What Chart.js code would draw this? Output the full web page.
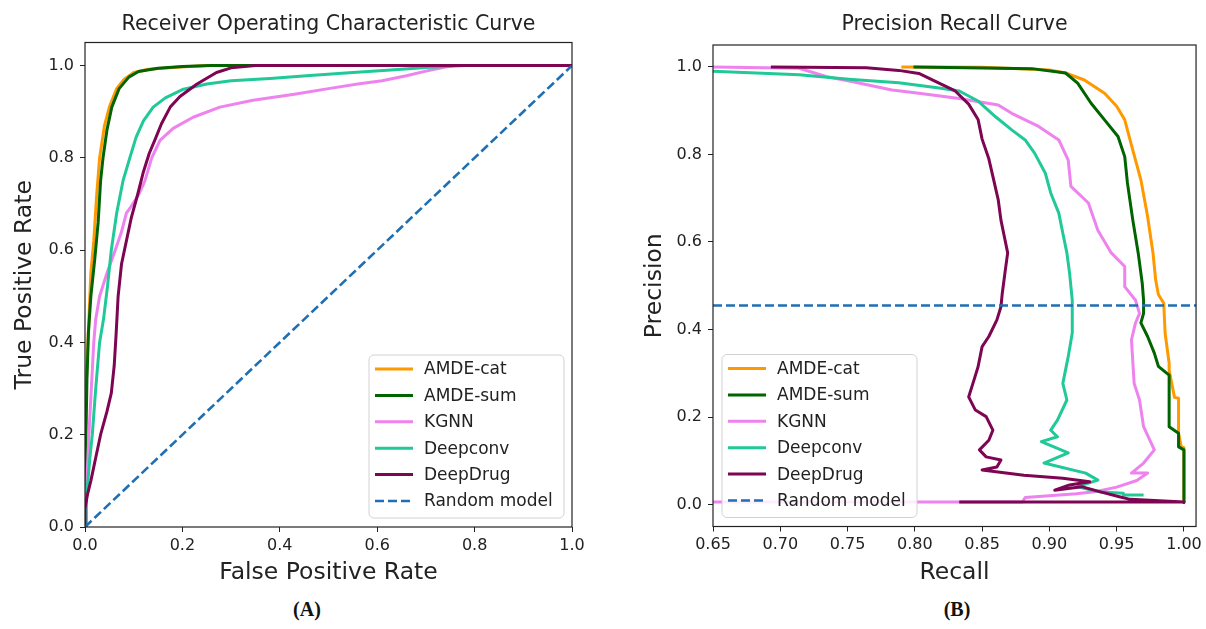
<!DOCTYPE html>
<html>
<head>
<meta charset="utf-8">
<script src="https://cdn.jsdelivr.net/npm/chart.js@4.4.1/dist/chart.umd.min.js"></script>
<style>
html, body { margin: 0; padding: 0; background: #fff; }
body { width: 1206px; height: 629px; position: relative; overflow: hidden; }
canvas { position: absolute; top: 0; }
#rocCanvas { left: 0; }
#prCanvas { left: 603px; }
.panel-tag { position: absolute; top: 598px; font: bold 20px "Liberation Serif", serif; color: #111; transform: translateX(-50%); }
</style>
</head>
<body>
<canvas id="rocCanvas" width="603" height="590"></canvas>
<canvas id="prCanvas" width="603" height="590"></canvas>
<div class="panel-tag" style="left:307px">(A)</div>
<div class="panel-tag" style="left:957px">(B)</div>
<script>
/* --- Data --- */
const seriesNames = ['AMDE-cat', 'AMDE-sum', 'KGNN', 'Deepconv', 'DeepDrug', 'Random model'];
const seriesColors = ['#ff9900', '#006400', '#ee82ee', '#20c997', '#7d0552', '#1f6fb4'];

// ROC: [FPR, TPR]
const rocAmdeCat = [[0,0],[0.001,0.25],[0.004,0.35],[0.008,0.45],[0.012,0.55],[0.018,0.62],[0.024,0.72],[0.03,0.8],[0.04,0.87],[0.05,0.91],[0.065,0.95],[0.08,0.97],[0.1,0.985],[0.13,0.992],[0.18,0.996],[0.25,1.0],[1,1]];
const rocAmdeSum = [[0,0],[0.002,0.2],[0.004,0.32],[0.007,0.42],[0.012,0.5],[0.02,0.58],[0.027,0.66],[0.032,0.75],[0.037,0.8],[0.045,0.86],[0.055,0.91],[0.07,0.95],[0.09,0.975],[0.11,0.987],[0.15,0.994],[0.2,0.998],[0.26,1.0],[1,1]];
const rocKgnn = [[0,0],[0.002,0.05],[0.004,0.1],[0.008,0.2],[0.013,0.3],[0.018,0.4],[0.022,0.45],[0.03,0.5],[0.045,0.55],[0.062,0.6],[0.075,0.64],[0.085,0.68],[0.095,0.695],[0.11,0.72],[0.123,0.75],[0.137,0.8],[0.154,0.838],[0.181,0.864],[0.222,0.888],[0.277,0.91],[0.345,0.925],[0.43,0.938],[0.5,0.95],[0.56,0.96],[0.61,0.967],[0.66,0.978],[0.7,0.988],[0.74,0.997],[0.76,1.0],[1,1]];
const rocDeepconv = [[0,0],[0.002,0.06],[0.006,0.1],[0.01,0.15],[0.015,0.2],[0.022,0.3],[0.03,0.4],[0.038,0.45],[0.046,0.52],[0.054,0.6],[0.065,0.68],[0.078,0.75],[0.092,0.8],[0.105,0.845],[0.12,0.88],[0.14,0.91],[0.165,0.93],[0.2,0.948],[0.25,0.96],[0.3,0.967],[0.38,0.972],[0.455,0.978],[0.55,0.985],[0.62,0.99],[0.7,0.996],[0.78,1.0],[1,1]];
const rocDeepDrug = [[0,0],[0,0.04],[0.005,0.07],[0.012,0.1],[0.022,0.15],[0.032,0.2],[0.045,0.25],[0.054,0.29],[0.06,0.35],[0.064,0.42],[0.068,0.5],[0.075,0.57],[0.085,0.62],[0.095,0.67],[0.108,0.72],[0.12,0.77],[0.132,0.81],[0.144,0.84],[0.157,0.874],[0.175,0.91],[0.195,0.933],[0.23,0.96],[0.27,0.985],[0.3,0.995],[0.35,1.0],[1,1]];
const rocRandom = [[0,0],[1,1]];

// PR: [Recall, Precision]
const prAmdeCat = [[0.79,1.0],[0.85,0.999],[0.9,0.993],[0.912,0.986],[0.926,0.97],[0.941,0.94],[0.95,0.91],[0.956,0.879],[0.962,0.81],[0.968,0.742],[0.973,0.658],[0.977,0.575],[0.979,0.513],[0.981,0.48],[0.985,0.46],[0.986,0.392],[0.989,0.323],[0.989,0.307],[0.993,0.245],[0.996,0.243],[0.996,0.163],[0.998,0.132],[1.0,0.13],[1.0,0.005]];
const prAmdeSum = [[0.799,1.0],[0.838,0.998],[0.887,0.996],[0.912,0.986],[0.921,0.963],[0.931,0.917],[0.941,0.879],[0.951,0.841],[0.956,0.795],[0.958,0.735],[0.962,0.65],[0.966,0.575],[0.969,0.506],[0.97,0.467],[0.97,0.437],[0.968,0.415],[0.973,0.384],[0.978,0.346],[0.981,0.316],[0.989,0.296],[0.989,0.178],[0.996,0.163],[0.996,0.132],[1.0,0.125],[1.0,0.005]];
const prKgnn = [[0.65,1.0],[0.714,0.997],[0.734,0.978],[0.754,0.966],[0.783,0.947],[0.803,0.94],[0.833,0.928],[0.862,0.913],[0.872,0.894],[0.892,0.864],[0.907,0.833],[0.914,0.787],[0.916,0.727],[0.929,0.689],[0.936,0.627],[0.946,0.575],[0.956,0.544],[0.956,0.498],[0.964,0.467],[0.967,0.437],[0.964,0.415],[0.961,0.376],[0.963,0.277],[0.967,0.239],[0.97,0.178],[0.978,0.125],[0.97,0.095],[0.961,0.072],[0.973,0.072],[0.965,0.055],[0.95,0.04],[0.935,0.03],[0.92,0.025],[0.9,0.02],[0.882,0.016],[0.88,0.006],[0.65,0.006]];
const prDeepconv = [[0.65,0.99],[0.714,0.982],[0.751,0.972],[0.788,0.964],[0.818,0.952],[0.833,0.945],[0.847,0.922],[0.86,0.886],[0.872,0.856],[0.882,0.833],[0.889,0.803],[0.897,0.757],[0.901,0.712],[0.907,0.666],[0.91,0.62],[0.913,0.575],[0.915,0.529],[0.917,0.467],[0.917,0.392],[0.914,0.338],[0.91,0.277],[0.913,0.239],[0.906,0.193],[0.901,0.17],[0.906,0.155],[0.894,0.144],[0.914,0.118],[0.896,0.095],[0.927,0.072],[0.936,0.056],[0.921,0.041],[0.938,0.029],[0.955,0.026],[0.955,0.022],[0.97,0.022]];
const prDeepDrug = [[0.693,1.0],[0.764,0.998],[0.788,0.992],[0.803,0.985],[0.818,0.963],[0.83,0.945],[0.84,0.915],[0.847,0.88],[0.85,0.835],[0.855,0.79],[0.858,0.75],[0.862,0.696],[0.864,0.65],[0.867,0.605],[0.869,0.575],[0.867,0.53],[0.865,0.483],[0.864,0.452],[0.861,0.422],[0.855,0.384],[0.85,0.361],[0.847,0.315],[0.844,0.285],[0.84,0.246],[0.845,0.216],[0.853,0.201],[0.858,0.17],[0.855,0.147],[0.848,0.125],[0.853,0.109],[0.864,0.102],[0.861,0.086],[0.85,0.079],[0.881,0.067],[0.91,0.06],[0.93,0.052],[0.915,0.045],[0.904,0.033],[0.924,0.041],[0.938,0.029],[0.952,0.018],[0.96,0.012],[1.0,0.006],[0.833,0.006]];
const prRandom = [[0.65,0.455],[1.009,0.455]];

// Tick labels
const rocTicks = [0, 0.2, 0.4, 0.6, 0.8, 1.0];
const prXTicks = [0.65, 0.70, 0.75, 0.80, 0.85, 0.90, 0.95, 1.00];
const prYTicks = [0, 0.2, 0.4, 0.6, 0.8, 1.0];

/* --- Helpers --- */
const FONT = '"DejaVu Sans", sans-serif';
const INK = '#222';

function buildDatasets(seriesList) {
    return seriesList.map((pts, i) => {
        const dashed = i === seriesList.length - 1;
        return {
            label: seriesNames[i],
            data: pts.map(p => ({ x: p[0], y: p[1] })),
            showLine: true,
            borderColor: seriesColors[i],
            backgroundColor: seriesColors[i],
            borderWidth: dashed ? 2.6 : 3,
            borderDash: dashed ? [9, 4] : [],
            borderJoinStyle: 'round',
            pointRadius: 0,
            tension: 0,
            order: -i
        };
    });
}

// Frame around the plot area + matplotlib-like legend box
const frameAndLegend = {
    id: 'frameAndLegend',
    afterDraw(chart, args, opts) {
        const { ctx, chartArea: a } = chart;
        ctx.save();
        ctx.strokeStyle = INK;
        ctx.lineWidth = 1.2;
        ctx.strokeRect(a.left, a.top, a.right - a.left, a.bottom - a.top);

        const w = 195, h = 163, rowH = 26.4;
        const x0 = opts.side === 'right' ? a.right - 8 - w : a.left + 9;
        const y0 = a.bottom - 9 - h;
        ctx.beginPath();
        ctx.roundRect(x0, y0, w, h, 5);
        ctx.fillStyle = 'rgba(255,255,255,0.85)';
        ctx.fill();
        ctx.strokeStyle = '#d2d2d2';
        ctx.lineWidth = 1;
        ctx.stroke();

        chart.data.datasets.forEach((ds, i) => {
            const y = y0 + 14 + i * rowH;
            ctx.beginPath();
            ctx.setLineDash(ds.borderDash);
            ctx.strokeStyle = ds.borderColor;
            ctx.lineWidth = ds.borderWidth;
            ctx.moveTo(x0 + 6, y);
            ctx.lineTo(x0 + 44, y);
            ctx.stroke();
            ctx.setLineDash([]);
            ctx.fillStyle = INK;
            ctx.font = '17px ' + FONT;
            ctx.textBaseline = 'middle';
            ctx.fillText(ds.label, x0 + 55, y + 1);
        });
        ctx.restore();
    }
};

function axis(opts) {
    return {
        type: 'linear',
        min: opts.min,
        max: opts.max,
        grid: { display: true, drawOnChartArea: false, drawTicks: true, tickLength: 5, color: INK, lineWidth: 1 },
        border: { display: false },
        ticks: {
            color: INK,
            font: { family: FONT, size: 16 },
            padding: opts.tickPad,
            callback: v => v.toFixed(opts.digits)
        },
        title: {
            display: true,
            text: opts.title,
            color: INK,
            font: { family: FONT, size: 23.5 },
            padding: opts.titlePad
        },
        afterBuildTicks: scale => { scale.ticks = opts.ticks.map(v => ({ value: v })); },
        afterFit: scale => {
            if (opts.width) scale.width = opts.width;
            if (opts.height) scale.height = opts.height;
        }
    };
}

function makeChart(id, cfg) {
    return new Chart(document.getElementById(id), {
        type: 'scatter',
        data: { datasets: buildDatasets(cfg.series) },
        options: {
            responsive: false,
            animation: false,
            devicePixelRatio: 1,
            layout: { padding: { left: 0, top: 0, right: cfg.padRight, bottom: 0 } },
            plugins: {
                legend: { display: false },
                tooltip: { enabled: false },
                title: {
                    display: true,
                    text: cfg.title,
                    fullSize: false,
                    color: INK,
                    font: { family: FONT, size: 20.5, weight: 'normal' },
                    padding: { top: 12.7, bottom: cfg.titleBottom }
                },
                frameAndLegend: { side: cfg.legendSide }
            },
            scales: {
                x: axis(cfg.x),
                y: axis(cfg.y)
            }
        },
        plugins: [frameAndLegend]
    });
}

/* --- Charts --- */
makeChart('rocCanvas', {
    series: [rocAmdeCat, rocAmdeSum, rocKgnn, rocDeepconv, rocDeepDrug, rocRandom],
    title: 'Receiver Operating Characteristic Curve',
    titleBottom: 5.2,
    padRight: 31,
    legendSide: 'right',
    x: { min: 0, max: 1, ticks: rocTicks, digits: 1, title: 'False Positive Rate', tickPad: 4, titlePad: { top: 0, bottom: 3 }, height: 63 },
    y: { min: 0, max: 1.05, ticks: rocTicks, digits: 1, title: 'True Positive Rate', tickPad: 6, titlePad: { top: 11, bottom: 0 }, width: 85 }
});

makeChart('prCanvas', {
    series: [prAmdeCat, prAmdeSum, prKgnn, prDeepconv, prDeepDrug, prRandom],
    title: 'Precision Recall Curve',
    titleBottom: 7.7,
    padRight: 7,
    legendSide: 'left',
    x: { min: 0.65, max: 1.009, ticks: prXTicks, digits: 2, title: 'Recall', tickPad: 4, titlePad: { top: 0, bottom: 3 }, height: 63.5 },
    y: { min: -0.05, max: 1.05, ticks: prYTicks, digits: 1, title: 'Precision', tickPad: 6, titlePad: { top: 38, bottom: 0 }, width: 110 }
});
</script>
</body>
</html>
